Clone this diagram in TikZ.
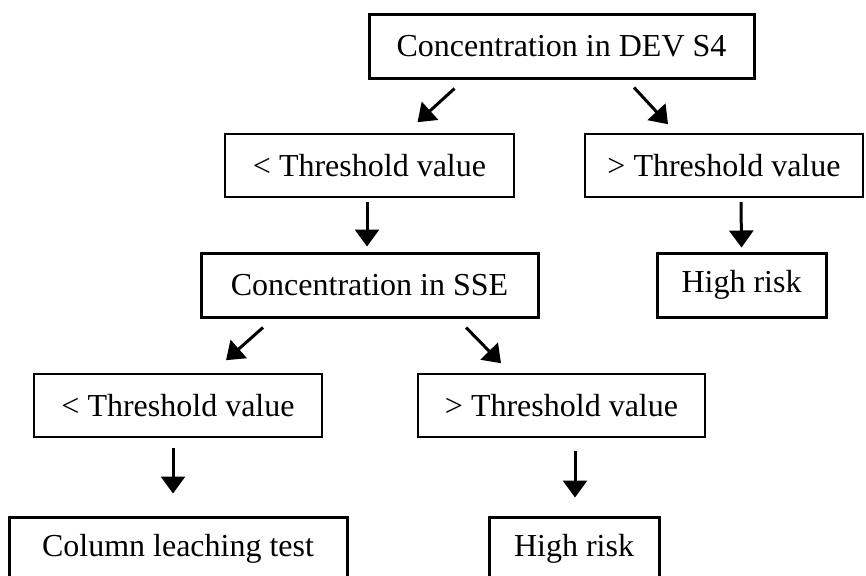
\documentclass[tikz,border=0pt]{standalone}
\usepackage{fontspec}
\setmainfont{Liberation Serif}
\usetikzlibrary{calc, arrows.meta}

\begin{document}
\begin{tikzpicture}[x=0.5pt, y=-0.5pt,
	every node/.style = {font=\fontsize{16}{19}\selectfont, inner sep=0pt},
	heavybox/.style = {draw, line width=1.5pt, minimum height=32pt},
	lightbox/.style = {draw, line width=0.8pt, minimum height=31.5pt}]
	\useasboundingbox (0,0) rectangle (866,575);
	\clip (0,0) rectangle (866,575);

	% first test
	\node [heavybox, minimum width=192.5pt] (dev) at (561.5,46) {Concentration in DEV S4};
	\node [lightbox, minimum width=144.5pt] (devlow) at (369.5,165.5) {\textless{} Threshold value};
	\node [lightbox, minimum width=139pt] (devhigh) at (724,165.5) {\textgreater{} Threshold value};
	\node [heavybox, minimum width=84.5pt] (riskA) at (741.5,285) {High risk};

	% second test
	\node [heavybox, minimum width=168.5pt] (sse) at (369.5,285) {Concentration in SSE};
	\node [lightbox, minimum width=144pt] (sselow) at (178,405.5) {\textless{} Threshold value};
	\node [lightbox, minimum width=143.5pt] (ssehigh) at (561.5,405.5) {\textgreater{} Threshold value};
	\node [heavybox, minimum width=169pt] (column) at (178,549) {Column leaching test};
	\node [heavybox, minimum width=85pt] (riskB) at (574,549) {High risk};

	\begin{scope}[-{Triangle[width=12pt, length=8.5pt]}, line width=1.5pt]
		\draw ($ (dev.south) + (-107,9) $) -- ($ (devlow.north) + (48,-11) $);
		\draw ($ (dev.south) + (72.5,8) $) -- ($ (devhigh.north) + (-56,-9) $);
		\draw ($ (devlow.south) + (-2.5,4) $) -- ($ (sse.north) + (-2.5,-5) $);
		\draw ($ (devhigh.south) + (17,4) $) -- ($ (riskA.north) + (0,-4) $);
		\draw ($ (sse.south) + (-106.5,9) $) -- ($ (sselow.north) + (48,-13) $);
		\draw ($ (sse.south) + (96.5,9) $) -- ($ (ssehigh.north) + (-60.5,-10) $);
		\draw ($ (sselow.south) + (-5,10) $) -- ($ (column.north) + (-5,-22) $);
		\draw ($ (ssehigh.south) + (13.5,13) $) -- ($ (riskB.north) + (1,-18) $);
	\end{scope}
\end{tikzpicture}
\end{document}
